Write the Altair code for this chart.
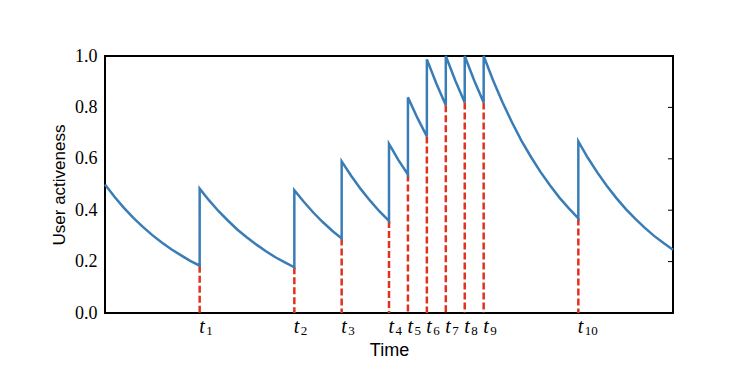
import json
import altair as alt
import pandas as pd

# Event times (x positions) and their labels t_1 ... t_10
event_times = [5, 10, 12.5, 15, 16, 17, 18, 19, 20, 25]
event_symbol = "t"
event_subscripts = ["1", "2", "3", "4", "5", "6", "7", "8", "9", "10"]
# activeness just before each event (top of red dashed lines)
trough_values = [0.184, 0.178, 0.290, 0.358, 0.539, 0.687, 0.808, 0.819, 0.819, 0.368]

# Activeness curve readings (jumps appear as repeated times)
curve_time = [
    0, 0.5, 1, 1.5, 2, 2.5, 3, 3.5, 4, 4.5, 5,
    5, 5.5, 6, 6.5, 7, 7.5, 8, 8.5, 9, 9.5, 10,
    10, 10.5, 11, 11.5, 12, 12.5,
    12.5, 13, 13.5, 14, 14.5, 15,
    15, 15.5, 16,
    16, 16.5, 17,
    17, 17.5, 18,
    18, 18.5, 19,
    19, 19.5, 20,
    20, 20.5, 21, 21.5, 22, 22.5, 23, 23.5, 24, 24.5, 25,
    25, 25.5, 26, 26.5, 27, 27.5, 28, 28.5, 29, 29.5, 30,
]
curve_value = [
    0.500, 0.452, 0.409, 0.370, 0.335, 0.303, 0.274, 0.248, 0.225, 0.203, 0.184,
    0.484, 0.438, 0.396, 0.359, 0.324, 0.294, 0.266, 0.240, 0.217, 0.197, 0.178,
    0.478, 0.433, 0.391, 0.354, 0.320, 0.290,
    0.590, 0.534, 0.483, 0.437, 0.395, 0.358,
    0.658, 0.595, 0.539,
    0.839, 0.759, 0.687,
    0.987, 0.893, 0.808,
    1.000, 0.905, 0.819,
    1.000, 0.905, 0.819,
    1.000, 0.905, 0.819, 0.741, 0.670, 0.607, 0.549, 0.497, 0.449, 0.407, 0.368,
    0.668, 0.604, 0.547, 0.495, 0.448, 0.405, 0.367, 0.332, 0.300, 0.272, 0.246,
]
y_ticks = [0.0, 0.2, 0.4, 0.6, 0.8, 1.0]

curve = pd.DataFrame({"t": curve_time, "v": curve_value, "i": range(len(curve_time))})
events = pd.DataFrame({"t": event_times, "v": trough_values})
ticks = pd.DataFrame({"v": y_ticks[1:-1]})

xscale = alt.Scale(domain=[0, 30], nice=False, zero=False)
yscale = alt.Scale(domain=[0, 1], nice=False)

sub_expr = (
    f"{json.dumps(event_subscripts)}"
    f"[indexof({json.dumps(event_times)}, datum.value)]"
)

# main x axis: italic "t" at each event, plus the title
x_axis = alt.Axis(
    orient="bottom",
    values=event_times, labelExpr=json.dumps(event_symbol), ticks=False, domain=False,
    grid=False, labelFont="Liberation Serif", labelFontStyle="italic", labelFontSize=20,
    labelAlign="left", labelOffset=-1, labelPadding=3, labelColor="black",
    labelOverlap=False,
    title="Time", titleFont="Liberation Sans", titleFontSize=18,
    titleFontWeight="normal", titleColor="black", titlePadding=5,
)
# second bottom axis: upright subscript numbers
x_axis_sub = alt.Axis(
    orient="bottom",
    values=event_times, labelExpr=sub_expr, ticks=False, domain=False, grid=False,
    labelFont="Liberation Serif", labelFontSize=13, labelAlign="left", labelOffset=6,
    labelPadding=11, labelColor="black", labelOverlap=False, title=None,
)
y_axis = alt.Axis(
    values=y_ticks, format=".1f", ticks=False, domain=False, grid=False,
    labelFont="Liberation Serif", labelFontSize=18, labelPadding=8, labelColor="black",
    title="User activeness", titleFont="Liberation Sans", titleFontSize=17,
    titleFontWeight="normal", titleColor="black", titlePadding=6,
)

dashes = alt.Chart(events).mark_rule(
    color="#e0321e", strokeDash=[7, 3], strokeWidth=2.5
).encode(
    x=alt.X("t:Q", scale=xscale, axis=x_axis),
    y=alt.Y("v:Q", scale=yscale, axis=y_axis),
    y2=alt.datum(0),
)

line = alt.Chart(curve).mark_line(color="#3a7db6", strokeWidth=2.5).encode(
    x=alt.X("t:Q", scale=xscale, axis=x_axis_sub),
    y=alt.Y("v:Q", scale=yscale),
    order="i:Q",
)

right_ticks = alt.Chart(ticks).mark_rule(color="black", strokeWidth=1).encode(
    x=alt.value(563),
    x2=alt.value(568),
    y=alt.Y("v:Q", scale=yscale),
)

chart = (
    alt.layer(dashes, line, right_ticks)
    .resolve_axis(x="independent")
    .properties(
        width=568,
        height=257,
        autosize=alt.AutoSizeParams(type="none"),
        padding={"left": 97, "top": 48, "right": 70, "bottom": 60},
        background="white",
    )
    .configure_view(stroke="black", strokeWidth=2)
)

chart.save("out.html", embed_options={"renderer": "svg", "actions": False})
